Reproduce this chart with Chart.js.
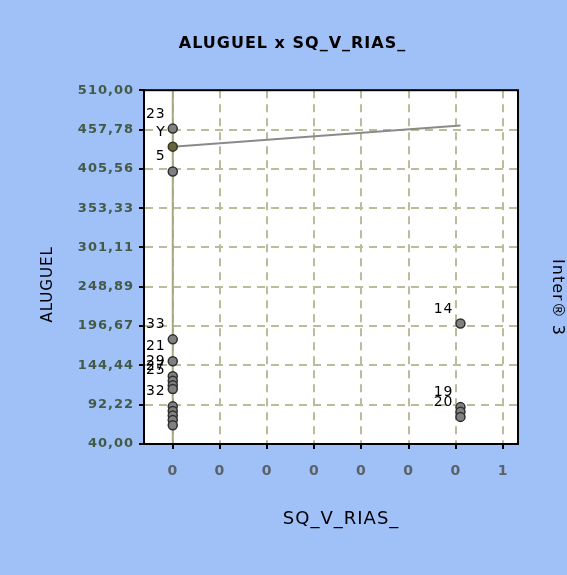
<!DOCTYPE html>
<html>
<head>
<meta charset="utf-8">
<script src="https://cdn.jsdelivr.net/npm/chart.js@4.4.1/dist/chart.umd.min.js"></script>
<style>
    html, body { margin: 0; padding: 0; background: #a0c0f8; }
    canvas { display: block; }
</style>
</head>
<body>
<canvas id="scatter" width="567" height="575"></canvas>
<script>
// rent (ALUGUEL) for the two groups of SQ_V_RIAS_
const groupZeroRent = [459, 402, 179, 150, 130, 124, 118, 113, 90, 84, 78, 72, 65];
const groupZeroIds = ["23", "5", "33", "21", "29", "27", "25", "", "32", "", "", "", ""];
const groupOneRent = [200, 89, 83, 76];
const groupOneIds = ["14", "19", "", "20"];

// fitted line at x = 0 and x = 1
const fitRent = [435, 463];
const fitIds = ["Y", ""];

const yTicks = [40, 92.22, 144.44, 196.67, 248.89, 301.11, 353.33, 405.56, 457.78, 510];
const xTicks = [0, 0.164, 0.328, 0.492, 0.656, 0.82, 0.984, 1.148];
const xTickLabels = ["0", "0", "0", "0", "0", "0", "0", "1"];

const spacing = {
    id: "spacing",
    beforeLayout(chart) { chart.ctx.letterSpacing = "1px"; },
    beforeDraw(chart) {
        const ctx = chart.ctx;
        ctx.letterSpacing = "1px";
        ctx.save();
        ctx.fillStyle = "#a0c0f8";
        ctx.fillRect(0, 0, chart.width, chart.height);
        const a = chart.chartArea;
        ctx.fillStyle = "#ffffff";
        ctx.fillRect(a.left, a.top, a.right - a.left, a.bottom - a.top);
        ctx.restore();
    }
};

const pointIds = {
    id: "pointIds",
    afterDatasetsDraw(chart) {
        const ctx = chart.ctx;
        const a = chart.chartArea;
        ctx.save();
        ctx.strokeStyle = "#000";
        ctx.lineWidth = 2;
        ctx.strokeRect(a.left, a.top, a.right - a.left, a.bottom - a.top);

        ctx.font = "14px 'DejaVu Sans'";
        ctx.fillStyle = "#000";
        ctx.textAlign = "right";
        ctx.textBaseline = "alphabetic";
        chart.data.datasets.forEach((ds, i) => {
            if (!ds.ids) return;
            chart.getDatasetMeta(i).data.forEach((el, j) => {
                if (ds.ids[j]) ctx.fillText(ds.ids[j], el.x - 7, el.y - 11);
            });
        });
        ctx.restore();
    }
};

const pointStyle = {
    pointRadius: 4.5,
    pointBackgroundColor: "#808080",
    pointBorderColor: "#2e2e2e",
    pointBorderWidth: 1.5,
    showLine: false
};

const gridStyle = {
    color: "#bcbc9a",
    lineWidth: 2,
    tickColor: "#000",
    tickLength: 5,
    tickWidth: 2
};

let ctx = document.getElementById("scatter").getContext("2d");

let scatterChart = new Chart(ctx, {
    type: "scatter",
    data: {
        datasets: [
            Object.assign({
                label: "0",
                data: groupZeroRent.map(v => ({ x: 0, y: v })),
                ids: groupZeroIds
            }, pointStyle),
            Object.assign({
                label: "1",
                data: groupOneRent.map(v => ({ x: 1, y: v })),
                ids: groupOneIds
            }, pointStyle),
            {
                label: "Y",
                data: fitRent.map((v, i) => ({ x: i, y: v })),
                ids: fitIds,
                showLine: true,
                borderColor: "#8a8a8a",
                borderWidth: 2,
                pointRadius: c => c.dataIndex === 0 ? 4.5 : 0,
                pointBackgroundColor: "#66663e",
                pointBorderColor: "#33331f",
                pointBorderWidth: 1.5
            },
            {
                label: "zero",
                data: [{ x: 0, y: yTicks[0] }, { x: 0, y: yTicks[yTicks.length - 1] }],
                showLine: true,
                borderColor: "#a8a880",
                borderWidth: 2,
                pointRadius: 0
            }
        ]
    },
    options: {
        responsive: false,
        animation: false,
        layout: { padding: { left: 18 } },
        plugins: {
            legend: { display: false },
            tooltip: { enabled: false },
            title: {
                display: true,
                text: "ALUGUEL x SQ_V_RIAS_",
                color: "#000",
                font: { family: "'DejaVu Sans'", size: 16, weight: "bold" },
                padding: { top: 34, bottom: 37 }
            }
        },
        scales: {
            x: {
                type: "linear",
                min: -0.1,
                max: 1.2,
                afterBuildTicks: s => { s.ticks = xTicks.map(v => ({ value: v })); },
                afterFit: s => { s.height = 131; },
                ticks: {
                    callback: (v, i) => xTickLabels[i],
                    color: "#5a6268",
                    padding: 14,
                    font: { family: "'DejaVu Sans'", size: 14, weight: "bold" }
                },
                grid: gridStyle,
                border: { display: true, color: "#000", width: 2, dash: [8, 6] },
                title: {
                    display: true,
                    text: "   SQ_V_RIAS_",
                    color: "#000",
                    font: { family: "'DejaVu Sans'", size: 18 },
                    padding: { bottom: 45 }
                }
            },
            y: {
                min: yTicks[0],
                max: yTicks[yTicks.length - 1],
                afterBuildTicks: s => { s.ticks = yTicks.map(v => ({ value: v })); },
                afterFit: s => { s.width = 126; },
                ticks: {
                    callback: v => v.toFixed(2).replace(".", ","),
                    color: "#435a46",
                    padding: 5,
                    font: { family: "'DejaVu Sans'", size: 13, weight: "bold" }
                },
                grid: gridStyle,
                border: { display: true, color: "#000", width: 2, dash: [8, 6] },
                title: {
                    display: true,
                    text: "ALUGUEL      ",
                    color: "#000",
                    font: { family: "'DejaVu Sans'", size: 15 },
                    padding: { top: 21 }
                }
            },
            side: {
                position: "right",
                min: yTicks[0],
                max: yTicks[yTicks.length - 1],
                afterFit: s => { s.width = 49; },
                ticks: { display: false },
                grid: { display: false },
                border: { display: false },
                title: {
                    display: true,
                    text: "          Inter® 3",
                    color: "#000",
                    font: { family: "'DejaVu Sans'", size: 16 },
                    padding: { top: 0 }
                }
            }
        }
    },
    plugins: [spacing, pointIds]
});
</script>
</body>
</html>
